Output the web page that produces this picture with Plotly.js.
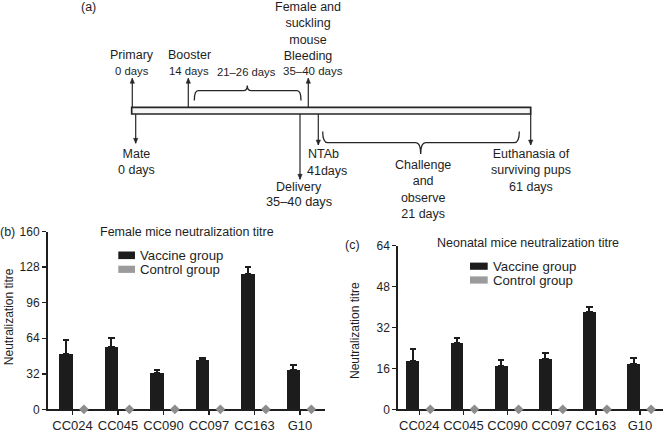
<!DOCTYPE html>
<html><head><meta charset="utf-8">
<script src="https://cdn.plot.ly/plotly-3.0.1.min.js"></script>
<style>html,body{margin:0;padding:0;background:#fff}#chart{width:666px;height:432px}</style>
</head><body><div id="chart"></div>
<script>
// ---------------- data ----------------
const strains = ['CC024', 'CC045', 'CC090', 'CC097', 'CC163', 'G10'];
const seriesNames = ['Vaccine group', 'Control group'];
const femaleVaccine = [50, 56, 33, 44, 121.5, 35];
const femaleVaccineErr = [12.5, 8, 2.5, 2.5, 6.5, 4.5];
const femaleControl = [0, 0, 0, 0, 0, 0];
const neonatalVaccine = [19, 25.8, 17.1, 19.8, 38.2, 17.7];
const neonatalVaccineErr = [4.6, 2.2, 2.1, 2.1, 2.0, 2.3];
const neonatalControl = [0, 0, 0, 0, 0, 0];
const femaleYTicks = [0, 32, 64, 96, 128, 160];
const neonatalYTicks = [0, 16, 32, 48, 64];
const panelTitles = ['Female mice neutralization titre', 'Neonatal mice neutralization titre'];
const yTitle = 'Neutralization titre';

// ---------------- helpers ----------------
const W = 666, H = 432;
const X = p => p / W;
const Y = p => 1 - p / H;
const FONT = 'Liberation Sans, Arial, Helvetica, sans-serif';
const INK = '#1e1e1e';
const BAR = '#1c1c1c';
const GREY = '#8d8d8d';
const idx = strains.map((_, i) => i);
const BW = 0.29, DOFF = 0.25;

function barTrace(vals, errs, xa, ya) {
  return {type: 'bar', x: idx, y: vals, width: BW, offset: -BW, xaxis: xa, yaxis: ya,
    name: seriesNames[0], marker: {color: BAR, line: {width: 0}}, cliponaxis: false,
    error_y: {type: 'data', symmetric: false, array: errs, arrayminus: errs.map(() => 0),
      color: BAR, thickness: 2, width: 3.3}};
}
function ctrlTrace(vals, xa, ya) {
  return {type: 'scatter', mode: 'markers', x: idx.map(i => i + DOFF), y: vals, xaxis: xa, yaxis: ya,
    name: seriesNames[1], marker: {symbol: 'diamond', size: 7.5, color: GREY}, cliponaxis: false};
}
const data = [
  barTrace(femaleVaccine, femaleVaccineErr, 'x', 'y'),
  ctrlTrace(femaleControl, 'x', 'y'),
  barTrace(neonatalVaccine, neonatalVaccineErr, 'x2', 'y2'),
  ctrlTrace(neonatalControl, 'x2', 'y2')
];

function xAxis(d, range, anchor) {
  return {domain: d, range: range, anchor: anchor, tickmode: 'array', tickvals: idx, ticktext: strains,
    ticks: 'outside', ticklen: 3.5, tickwidth: 1.5, tickcolor: INK, showline: true, linewidth: 2,
    linecolor: INK, showgrid: false, zeroline: false, layer: 'below traces',
    tickfont: {family: FONT, size: 13, color: INK}, fixedrange: true};
}
function yAxis(d, range, ticks, anchor) {
  return {domain: d, range: range, anchor: anchor, tickmode: 'array', tickvals: ticks,
    ticks: 'outside', ticklen: 4, tickwidth: 1.5, tickcolor: INK, showline: true, linewidth: 2,
    linecolor: INK, showgrid: false, zeroline: false, layer: 'below traces',
    tickfont: {family: FONT, size: 12, color: INK}, fixedrange: true};
}

// ---------------- timeline (panel a) ----------------
const shapes = [];
const LC = '#262626';
shapes.push({type: 'rect', xref: 'paper', yref: 'paper', x0: X(131.7), x1: X(530.7), y0: Y(114), y1: Y(107.3),
  fillcolor: '#f6f6f6', line: {color: LC, width: 1.7}});
function arrow(x, yTail, yTip) {
  shapes.push({type: 'line', xref: 'paper', yref: 'paper', x0: X(x), x1: X(x), y0: Y(yTail), y1: Y(yTip),
    line: {color: LC, width: 1.2}});
  const dir = yTip > yTail ? 1 : -1;
  const b = yTip - dir * 5;
  shapes.push({type: 'path', xref: 'paper', yref: 'paper',
    path: `M${X(x - 2.2)},${Y(b)} L${X(x + 2.2)},${Y(b)} L${X(x)},${Y(yTip)} Z`,
    fillcolor: LC, line: {color: LC, width: 0.5}});
}
arrow(132.3, 107.3, 78.3);
arrow(188.3, 107.3, 78.3);
arrow(308.3, 107.3, 78.3);
arrow(135.7, 114, 143.3);
arrow(300.0, 114, 179.3);
arrow(318.3, 114, 145);
arrow(530.7, 114, 145);
function brace(x1, x2, xm, yEnd, yFlat, yTip, r) {
  const P = (x, y) => `${X(x)},${Y(y)}`;
  const path = `M${P(x1, yEnd)} Q${P(x1, yFlat)} ${P(x1 + r, yFlat)} L${P(xm - r, yFlat)} Q${P(xm, yFlat)} ${P(xm, yTip)} ` +
    `Q${P(xm, yFlat)} ${P(xm + r, yFlat)} L${P(x2 - r, yFlat)} Q${P(x2, yFlat)} ${P(x2, yEnd)}`;
  shapes.push({type: 'path', xref: 'paper', yref: 'paper', path: path, line: {color: LC, width: 1.3}});
}
brace(194.3, 301, 247.3, 100.5, 90.7, 85.5, 4);
brace(322.7, 519.3, 420.7, 131.5, 142.7, 154, 5);

// ---------------- legend swatches ----------------
function swatch(x0, x1, y0, y1, c) {
  shapes.push({type: 'rect', xref: 'paper', yref: 'paper', x0: X(x0), x1: X(x1), y0: Y(y1), y1: Y(y0),
    fillcolor: c, line: {width: 0}});
}
swatch(118.3, 135, 251.5, 259.1, BAR);
swatch(118.3, 135, 265.7, 272.9, '#9b9b9b');
swatch(470, 487.7, 262.6, 269.8, BAR);
swatch(470, 487.7, 276.4, 283.6, '#9b9b9b');

// ---------------- texts ----------------
const annotations = [];
function txt(t, x, y, size, anchor, angle) {
  annotations.push({text: t, xref: 'paper', yref: 'paper', x: X(x), y: Y(y), showarrow: false,
    xanchor: anchor || 'center', yanchor: 'middle', textangle: angle || 0,
    font: {family: FONT, size: size, color: INK}, borderpad: 0});
}
txt('(a)', 88, 7, 12.5);
txt('Primary', 132.3, 55, 12.5);
txt('0 days', 132.3, 70.7, 11.3);
txt('Booster', 189.3, 55, 12.5);
txt('14 days', 189, 70.7, 11.3);
txt('21\u201326 days', 246.7, 72, 11.3);
txt('Female and<br>suckling<br>mouse<br>Bleeding', 308.3, 31, 12.5);
txt('35\u201340 days', 313, 70.7, 11.5);
txt('Mate<br>0 days', 136, 162.3, 12.5);
txt('NTAb', 323.3, 154, 12.5);
txt('41days', 326.5, 170.7, 12.5);
txt('Delivery', 299.3, 187.3, 12.5);
txt('35\u201340 days', 299.3, 201.7, 12.8);
txt('Challenge<br>and<br>observe<br>21 days', 423.3, 189.2, 12.5);
txt('Euthanasia of<br>surviving pups<br>61 days', 531, 170.7, 12.5);

txt('(b)', 7.5, 231.7, 12.5);
txt('(c)', 352.5, 245, 12.5);
txt(panelTitles[0], 186.7, 231.7, 12.5);
txt(panelTitles[1], 528, 243.3, 12.5);
txt(seriesNames[0], 139.3, 255.3, 13.2, 'left');
txt(seriesNames[1], 139.3, 269.3, 13.2, 'left');
txt(seriesNames[0], 492, 266.2, 13.2, 'left');
txt(seriesNames[1], 492, 280.2, 13.2, 'left');
txt(yTitle, 8.5, 316.7, 12, 'center', -90);
txt(yTitle, 355, 331, 12, 'center', -90);

const layout = {
  width: W, height: H, margin: {l: 0, r: 0, t: 0, b: 0, pad: 0},
  paper_bgcolor: '#fff', plot_bgcolor: 'rgba(0,0,0,0)', showlegend: false,
  bargap: 0, font: {family: FONT, color: INK},
  xaxis: xAxis([X(48), X(325)], [-0.54, 5.55], 'y'),
  yaxis: yAxis([Y(409.3), Y(231.7)], [0, 160], femaleYTicks, 'x'),
  xaxis2: xAxis([X(398.3), X(663)], [-0.475, 5.52], 'y2'),
  yaxis2: yAxis([Y(409.3), Y(245.7)], [0, 64], neonatalYTicks, 'x2'),
  shapes: shapes, annotations: annotations
};
Plotly.newPlot('chart', data, layout, {displayModeBar: false, staticPlot: true});
</script></body></html>
